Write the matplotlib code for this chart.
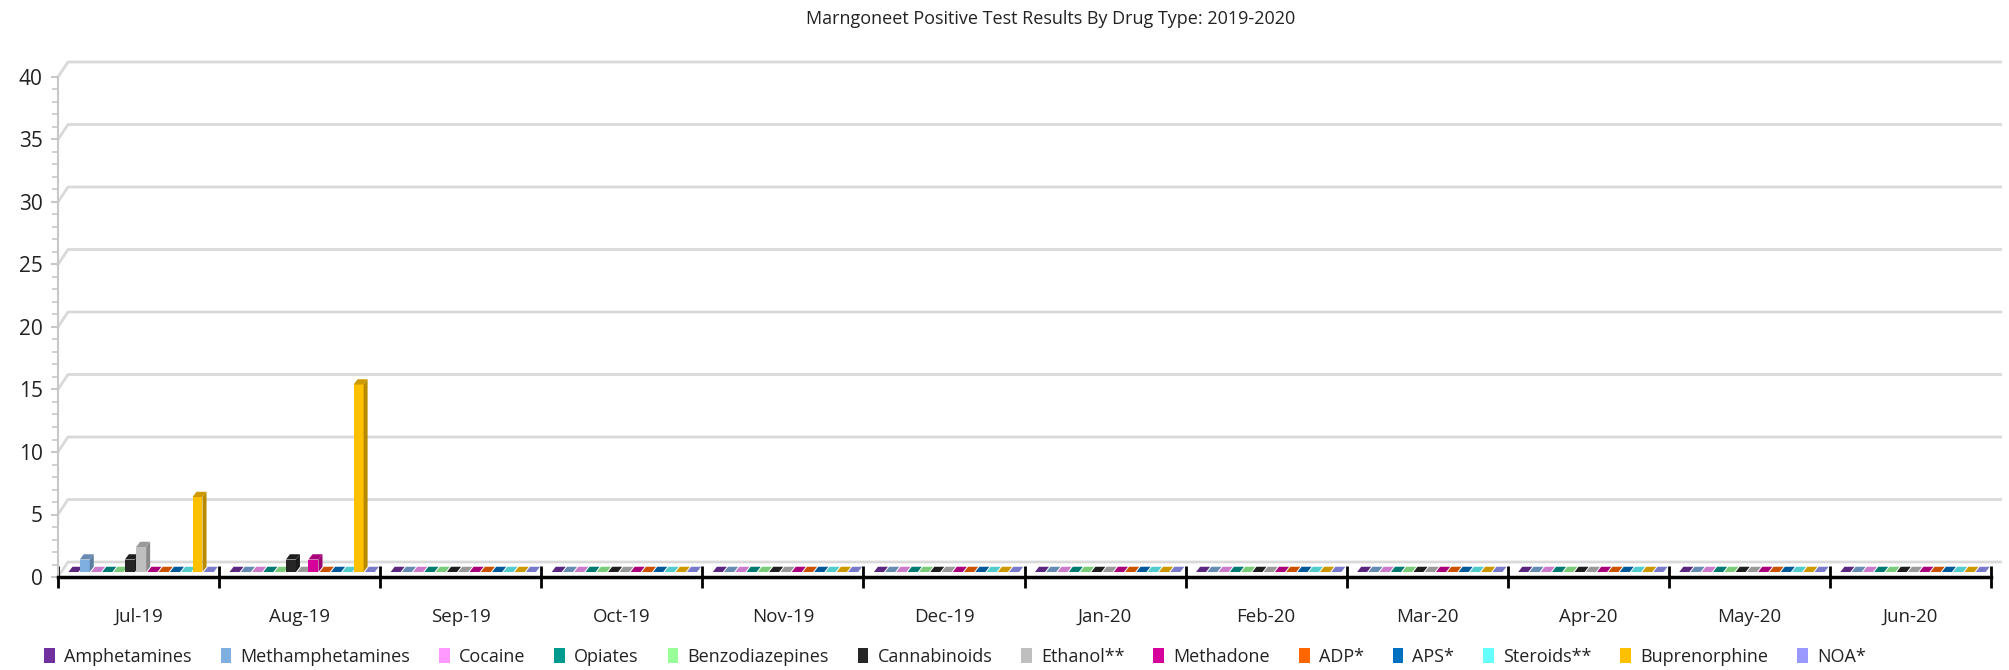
import matplotlib.pyplot as plt
from matplotlib.patches import Polygon
from matplotlib.ticker import MultipleLocator, FixedLocator, NullFormatter
import matplotlib.colors as mcolors

months = ["Jul-19", "Aug-19", "Sep-19", "Oct-19", "Nov-19", "Dec-19",
          "Jan-20", "Feb-20", "Mar-20", "Apr-20", "May-20", "Jun-20"]

drugs = ["Amphetamines", "Methamphetamines", "Cocaine", "Opiates",
         "Benzodiazepines", "Cannabinoids", "Ethanol**", "Methadone",
         "ADP*", "APS*", "Steroids**", "Buprenorphine", "NOA*"]

colors = ["#7030A0", "#7FAFE0", "#FF99FF", "#009A8E", "#99FF99", "#262626",
          "#BFBFBF", "#D6009A", "#FF6600", "#0070C0", "#66FFFF", "#FFC000",
          "#9999FF"]

# positives per drug, one value per month
amphetamines     = [0, 0, 0, 0, 0, 0, 0, 0, 0, 0, 0, 0]
methamphetamines = [1, 0, 0, 0, 0, 0, 0, 0, 0, 0, 0, 0]
cocaine          = [0, 0, 0, 0, 0, 0, 0, 0, 0, 0, 0, 0]
opiates          = [0, 0, 0, 0, 0, 0, 0, 0, 0, 0, 0, 0]
benzodiazepines  = [0, 0, 0, 0, 0, 0, 0, 0, 0, 0, 0, 0]
cannabinoids     = [1, 1, 0, 0, 0, 0, 0, 0, 0, 0, 0, 0]
ethanol          = [2, 0, 0, 0, 0, 0, 0, 0, 0, 0, 0, 0]
methadone        = [0, 1, 0, 0, 0, 0, 0, 0, 0, 0, 0, 0]
adp              = [0, 0, 0, 0, 0, 0, 0, 0, 0, 0, 0, 0]
aps              = [0, 0, 0, 0, 0, 0, 0, 0, 0, 0, 0, 0]
steroids         = [0, 0, 0, 0, 0, 0, 0, 0, 0, 0, 0, 0]
buprenorphine    = [6, 15, 0, 0, 0, 0, 0, 0, 0, 0, 0, 0]
noa              = [0, 0, 0, 0, 0, 0, 0, 0, 0, 0, 0, 0]

series = [amphetamines, methamphetamines, cocaine, opiates, benzodiazepines,
          cannabinoids, ethanol, methadone, adp, aps, steroids,
          buprenorphine, noa]

plt.rcParams["font.family"] = ["Open Sans", "DejaVu Sans"]

W, H = 2009, 670
fig = plt.figure(figsize=(W / 100, H / 100), dpi=100)
x0, x1 = 58, 1991
y0, y1 = 577, 77
ax = fig.add_axes([x0 / W, 1 - y0 / H, (x1 - x0) / W, (y0 - y1) / H])
ax.set_xlim(0, 12)
ax.set_ylim(0, 40)

# fake 3D: back wall offset and bar depth
wall_dx, wall_dy = 0.062, 1.2
base = 0.4
slot, bw = 0.07, 0.062
dx, dy = 0.025, 0.42


def shade(c, f):
    r, g, b = mcolors.to_rgb(c)
    return (r * f, g * f, b * f)


for v in range(0, 41, 5):
    ax.plot([0, wall_dx, 12.06], [v, v + wall_dy, v + wall_dy],
            color="#D9D9D9", lw=2, clip_on=False, zorder=1)

for j, vals in enumerate(series):
    lefts = [i + 0.065 + j * slot for i in range(len(months))]
    ax.bar(lefts, vals, width=bw, bottom=base, align="edge",
           color=colors[j], zorder=3, label=drugs[j])
    for xl, v in zip(lefts, vals):
        top = base + v
        if v > 0:
            ax.add_patch(Polygon([(xl + bw, base), (xl + bw + dx, base + dy),
                                  (xl + bw + dx, top + dy), (xl + bw, top)],
                                 closed=True, color=shade(colors[j], 0.72),
                                 lw=0, zorder=3))
        ax.add_patch(Polygon([(xl, top), (xl + bw, top),
                              (xl + bw + dx, top + dy), (xl + dx, top + dy)],
                             closed=True, color=shade(colors[j], 0.8),
                             lw=0, zorder=3))

for s in ["top", "right"]:
    ax.spines[s].set_visible(False)
ax.spines["left"].set_color("#C8C8C8")
ax.spines["left"].set_linewidth(1.5)
ax.spines["bottom"].set_color("black")
ax.spines["bottom"].set_linewidth(2.5)
ax.spines["bottom"].set_zorder(5)

ax.yaxis.set_major_locator(MultipleLocator(5))
ax.yaxis.set_minor_locator(MultipleLocator(1))
ax.tick_params(axis="y", which="both", colors="#C8C8C8", labelcolor="#222222",
               labelsize=15, pad=6)
ax.tick_params(axis="y", which="major", length=5, width=1.5)
ax.tick_params(axis="y", which="minor", length=4, width=1.2)

ax.xaxis.set_major_locator(FixedLocator(range(13)))
ax.xaxis.set_major_formatter(NullFormatter())
ax.xaxis.set_minor_locator(FixedLocator([i + 0.5 for i in range(12)]))
ax.set_xticklabels(months, minor=True)
ax.tick_params(axis="x", which="major", direction="inout", length=16,
               width=2, color="black")
ax.tick_params(axis="x", which="minor", length=0, labelsize=13.5, pad=22,
               labelcolor="#222222")

fig.text(1051 / W, 1 - 19 / H, "Marngoneet Positive Test Results By Drug Type: 2019-2020",
         ha="center", va="center", fontsize=13, color="#222222")

fig.legend(loc="center left", bbox_to_anchor=(28 / W, 1 - 657 / H), ncol=13,
           frameon=False, fontsize=13, handlelength=0.6, handleheight=0.9,
           handletextpad=0.5, columnspacing=1.6, labelcolor="#222222")

fig.savefig("out.png", dpi=100)
